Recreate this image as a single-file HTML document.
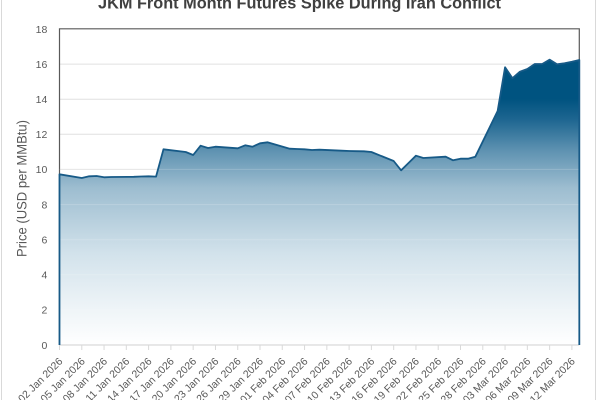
<!DOCTYPE html>
<html>
<head>
<meta charset="utf-8">
<style>
  html, body { margin: 0; padding: 0; background: #ffffff; }
  body { width: 600px; height: 400px; overflow: hidden; }
  svg { display: block; }
  text { font-family: "Liberation Sans", "DejaVu Sans", sans-serif; }
</style>
</head>
<body>
<svg width="600" height="400" viewBox="0 0 600 400" xmlns="http://www.w3.org/2000/svg">
  <defs>
    <linearGradient id="fillGrad" gradientUnits="userSpaceOnUse" x1="0" y1="59" x2="0" y2="345">
      <stop offset="0" stop-color="#005380"/>
      <stop offset="0.14" stop-color="#005380"/>
      <stop offset="0.21" stop-color="#1d6590"/>
      <stop offset="0.32" stop-color="#5e92b1"/>
      <stop offset="0.45" stop-color="#9dbdd0"/>
      <stop offset="0.68" stop-color="#d2e2eb"/>
      <stop offset="0.85" stop-color="#ebf2f6"/>
      <stop offset="1" stop-color="#ffffff"/>
    </linearGradient>
  </defs>

  <rect x="0" y="0" width="600" height="400" fill="#ffffff"/>
  <!-- outer chart border -->
  <line x1="1.5" y1="0" x2="1.5" y2="400" stroke="#d9d9d9" stroke-width="1"/>
  <line x1="595.5" y1="0" x2="595.5" y2="400" stroke="#d9d9d9" stroke-width="1"/>

  <!-- title -->
  <text x="299.5" y="8.5" text-anchor="middle" font-size="17" font-weight="bold" fill="#404040" textLength="403" lengthAdjust="spacingAndGlyphs">JKM Front Month Futures Spike During Iran Conflict</text>

  <!-- gridlines -->
  <g stroke="#e0e0e0" stroke-width="1">
    <line x1="59.5" y1="309.9" x2="579.3" y2="309.9"/>
    <line x1="59.5" y1="274.8" x2="579.3" y2="274.8"/>
    <line x1="59.5" y1="239.7" x2="579.3" y2="239.7"/>
    <line x1="59.5" y1="204.6" x2="579.3" y2="204.6"/>
    <line x1="59.5" y1="169.4" x2="579.3" y2="169.4"/>
    <line x1="59.5" y1="134.3" x2="579.3" y2="134.3"/>
    <line x1="59.5" y1="99.2" x2="579.3" y2="99.2"/>
    <line x1="59.5" y1="64.1" x2="579.3" y2="64.1"/>
  </g>

  <!-- plot border (top/left/right) -->
  <path d="M59.5,345 V28.8 H579.3 V345" fill="none" stroke="#595959" stroke-width="1.2"/>

  <!-- area fill -->
  <path fill="url(#fillGrad)" d="M59.5,345 L59.5,174.3 L81.78,178 L89.2,176.3 L96.63,176 L104.06,177.3 L111.48,177 L133.76,176.8 L141.19,176.5 L148.61,176.3 L156.04,176.6 L163.46,149.3 L185.74,152 L193.17,155 L200.59,145.7 L208.02,148 L215.45,146.7 L237.72,148.3 L245.15,145.3 L252.58,146.7 L260,143.3 L267.43,142.3 L289.71,148.7 L297.13,149 L304.56,149.3 L311.98,150 L319.41,149.7 L341.69,150.7 L349.11,151 L356.54,151.2 L363.97,151.3 L371.39,152 L393.67,161 L401.1,170.3 L408.52,163 L415.95,155.7 L423.37,158 L445.65,156.7 L453.08,160.3 L460.5,158.7 L467.93,158.7 L475.36,156.7 L497.63,111 L505.06,67.3 L512.49,78.2 L519.91,71.7 L527.34,69 L534.76,64 L542.19,64 L549.62,59.7 L557.04,64.3 L564.47,63.3 L571.89,61.8 L579.32,60 L579.32,345 Z"/>

  <!-- faint gridlines showing through fill -->
  <g stroke="#ffffff" stroke-opacity="0.18" stroke-width="1">
    <line x1="59.5" y1="309.9" x2="579.3" y2="309.9"/>
    <line x1="59.5" y1="274.8" x2="579.3" y2="274.8"/>
    <line x1="59.5" y1="239.7" x2="579.3" y2="239.7"/>
    <line x1="59.5" y1="204.6" x2="579.3" y2="204.6"/>
    <line x1="59.5" y1="169.4" x2="579.3" y2="169.4"/>
  </g>

  <!-- x axis line -->
  <line x1="59.5" y1="345" x2="579.3" y2="345" stroke="#d9d9d9" stroke-width="1.3"/>

  <!-- series outline -->
  <path fill="none" stroke="#175a87" stroke-width="1.8" stroke-linejoin="round" d="M59.5,345 L59.5,174.3 L81.78,178 L89.2,176.3 L96.63,176 L104.06,177.3 L111.48,177 L133.76,176.8 L141.19,176.5 L148.61,176.3 L156.04,176.6 L163.46,149.3 L185.74,152 L193.17,155 L200.59,145.7 L208.02,148 L215.45,146.7 L237.72,148.3 L245.15,145.3 L252.58,146.7 L260,143.3 L267.43,142.3 L289.71,148.7 L297.13,149 L304.56,149.3 L311.98,150 L319.41,149.7 L341.69,150.7 L349.11,151 L356.54,151.2 L363.97,151.3 L371.39,152 L393.67,161 L401.1,170.3 L408.52,163 L415.95,155.7 L423.37,158 L445.65,156.7 L453.08,160.3 L460.5,158.7 L467.93,158.7 L475.36,156.7 L497.63,111 L505.06,67.3 L512.49,78.2 L519.91,71.7 L527.34,69 L534.76,64 L542.19,64 L549.62,59.7 L557.04,64.3 L564.47,63.3 L571.89,61.8 L579.32,60 L579.32,345"/>

  <!-- y tick labels -->
  <g font-size="10.5" fill="#595959" text-anchor="end">
    <text x="47.3" y="348.8">0</text>
    <text x="47.3" y="313.7">2</text>
    <text x="47.3" y="278.6">4</text>
    <text x="47.3" y="243.5">6</text>
    <text x="47.3" y="208.4">8</text>
    <text x="47.3" y="173.2">10</text>
    <text x="47.3" y="138.1">12</text>
    <text x="47.3" y="103">14</text>
    <text x="47.3" y="67.9">16</text>
    <text x="47.3" y="32.8">18</text>
  </g>

  <!-- y axis title -->
  <text transform="translate(26.5,188.5) rotate(-90)" text-anchor="middle" font-size="13.5" fill="#595959" textLength="137" lengthAdjust="spacingAndGlyphs">Price (USD per MMBtu)</text>

  <!-- x tick marks -->
  <g stroke="#d9d9d9" stroke-width="1">
    <line x1="59.5" y1="345" x2="59.5" y2="350"/>
    <line x1="81.78" y1="345" x2="81.78" y2="350"/>
    <line x1="104.06" y1="345" x2="104.06" y2="350"/>
    <line x1="126.33" y1="345" x2="126.33" y2="350"/>
    <line x1="148.61" y1="345" x2="148.61" y2="350"/>
    <line x1="170.89" y1="345" x2="170.89" y2="350"/>
    <line x1="193.17" y1="345" x2="193.17" y2="350"/>
    <line x1="215.45" y1="345" x2="215.45" y2="350"/>
    <line x1="237.72" y1="345" x2="237.72" y2="350"/>
    <line x1="260" y1="345" x2="260" y2="350"/>
    <line x1="282.28" y1="345" x2="282.28" y2="350"/>
    <line x1="304.56" y1="345" x2="304.56" y2="350"/>
    <line x1="326.84" y1="345" x2="326.84" y2="350"/>
    <line x1="349.11" y1="345" x2="349.11" y2="350"/>
    <line x1="371.39" y1="345" x2="371.39" y2="350"/>
    <line x1="393.67" y1="345" x2="393.67" y2="350"/>
    <line x1="415.95" y1="345" x2="415.95" y2="350"/>
    <line x1="438.23" y1="345" x2="438.23" y2="350"/>
    <line x1="460.5" y1="345" x2="460.5" y2="350"/>
    <line x1="482.78" y1="345" x2="482.78" y2="350"/>
    <line x1="505.06" y1="345" x2="505.06" y2="350"/>
    <line x1="527.34" y1="345" x2="527.34" y2="350"/>
    <line x1="549.62" y1="345" x2="549.62" y2="350"/>
    <line x1="571.89" y1="345" x2="571.89" y2="350"/>
  </g>

  <!-- x tick labels -->
  <g font-size="10.5" fill="#595959" text-anchor="end">
    <text transform="translate(63.3,362) rotate(-45)">02 Jan 2026</text>
    <text transform="translate(85.58,362) rotate(-45)">05 Jan 2026</text>
    <text transform="translate(107.86,362) rotate(-45)">08 Jan 2026</text>
    <text transform="translate(130.13,362) rotate(-45)">11 Jan 2026</text>
    <text transform="translate(152.41,362) rotate(-45)">14 Jan 2026</text>
    <text transform="translate(174.69,362) rotate(-45)">17 Jan 2026</text>
    <text transform="translate(196.97,362) rotate(-45)">20 Jan 2026</text>
    <text transform="translate(219.25,362) rotate(-45)">23 Jan 2026</text>
    <text transform="translate(241.52,362) rotate(-45)">26 Jan 2026</text>
    <text transform="translate(263.8,362) rotate(-45)">29 Jan 2026</text>
    <text transform="translate(286.08,362) rotate(-45)">01 Feb 2026</text>
    <text transform="translate(308.36,362) rotate(-45)">04 Feb 2026</text>
    <text transform="translate(330.64,362) rotate(-45)">07 Feb 2026</text>
    <text transform="translate(352.91,362) rotate(-45)">10 Feb 2026</text>
    <text transform="translate(375.19,362) rotate(-45)">13 Feb 2026</text>
    <text transform="translate(397.47,362) rotate(-45)">16 Feb 2026</text>
    <text transform="translate(419.75,362) rotate(-45)">19 Feb 2026</text>
    <text transform="translate(442.03,362) rotate(-45)">22 Feb 2026</text>
    <text transform="translate(464.3,362) rotate(-45)">25 Feb 2026</text>
    <text transform="translate(486.58,362) rotate(-45)">28 Feb 2026</text>
    <text transform="translate(508.86,362) rotate(-45)">03 Mar 2026</text>
    <text transform="translate(531.14,362) rotate(-45)">06 Mar 2026</text>
    <text transform="translate(553.42,362) rotate(-45)">09 Mar 2026</text>
    <text transform="translate(575.69,362) rotate(-45)">12 Mar 2026</text>
  </g>
</svg>
</body>
</html>
